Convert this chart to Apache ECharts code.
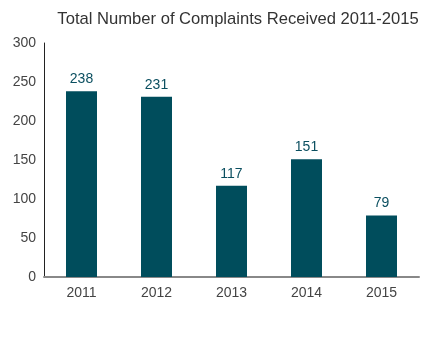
<!DOCTYPE html>
<html>
<head>
<meta charset="utf-8">
<script src="https://cdn.jsdelivr.net/npm/echarts@6/dist/echarts.min.js"></script>
<style>
  html, body { margin: 0; padding: 0; background: #fff; }
  #chart { width: 439px; height: 337px; }
</style>
</head>
<body>
<div id="chart"></div>
<script>
// Complaints received per year
const years = ['2011', '2012', '2013', '2014', '2015'];
const complaints = [238, 231, 117, 151, 79];
const yTicks = [0, 50, 100, 150, 200, 250, 300];

const FONT = '"Liberation Sans", Arial, sans-serif';
const chart = echarts.init(document.getElementById('chart'));

chart.setOption({
  animation: false,
  textStyle: { fontFamily: FONT },
  title: {
    text: 'Total Number of Complaints Received 2011-2015',
    left: 233,
    textAlign: 'center',
    top: 6,
    textStyle: { fontFamily: FONT, fontSize: 16.6, fontWeight: 'normal', color: '#333' }
  },
  grid: { left: 44, right: 20, top: 43, bottom: 60, containLabel: false },
  xAxis: {
    type: 'category',
    data: years,
    axisLine: { lineStyle: { color: '#888', width: 2 } },
    axisTick: { show: false },
    axisLabel: { fontFamily: FONT, fontSize: 14, color: '#444', margin: 9 }
  },
  yAxis: {
    type: 'value',
    min: yTicks[0],
    max: yTicks[yTicks.length - 1],
    interval: 50,
    axisLine: { show: true, lineStyle: { color: '#222', width: 1 } },
    axisTick: { show: false },
    splitLine: { show: false },
    axisLabel: { fontFamily: FONT, fontSize: 14, color: '#444', margin: 8 }
  },
  series: [{
    type: 'bar',
    data: complaints,
    barWidth: 31,
    itemStyle: { color: '#004d5c' },
    label: {
      show: true,
      position: 'top',
      distance: 5,
      fontFamily: FONT,
      fontSize: 14,
      color: '#0b4f60'
    }
  }]
});
</script>
</body>
</html>
